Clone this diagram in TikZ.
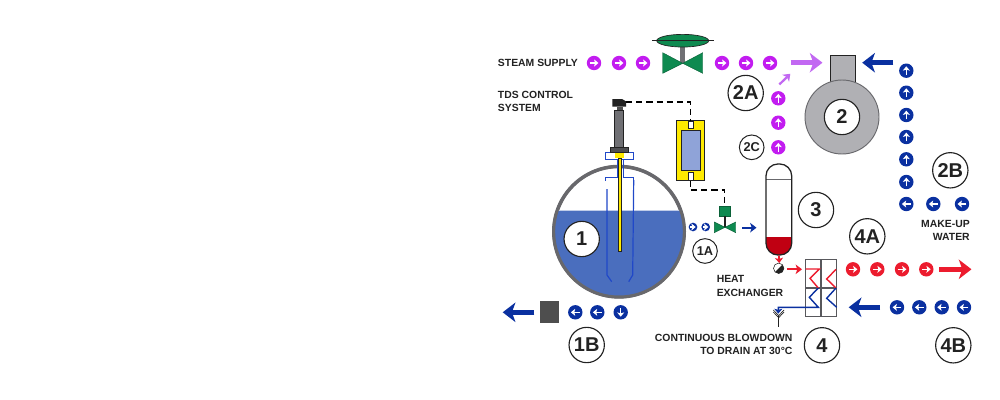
\documentclass[tikz,border=0pt]{standalone}
\usepackage{fontspec}
\setmainfont{Liberation Sans}
\usetikzlibrary{arrows.meta,shapes.geometric}
\definecolor{steamdot}{HTML}{C21CF0}
\definecolor{steamflow}{HTML}{C268F2}
\definecolor{waterblue}{HTML}{0A30A0}
\definecolor{hotred}{HTML}{EC1C2E}
\definecolor{vesselred}{HTML}{C00012}
\definecolor{drumwater}{HTML}{4A6EBE}
\definecolor{tubeblue}{HTML}{2048C8}
\definecolor{valvegreen}{HTML}{0E8A50}
\definecolor{metalgrey}{HTML}{B0B0B4}
\definecolor{probegrey}{HTML}{707074}
\definecolor{drumgrey}{HTML}{68686C}
\definecolor{tdsyellow}{HTML}{FFEA00}
\definecolor{cellblue}{HTML}{8FA3D8}
\definecolor{inkdark}{HTML}{222222}
\tikzset{
  x=0.75pt,y=-0.75pt,
  tagbig/.style={circle,draw=inkdark,fill=white,line width=0.85pt,minimum size=26.5pt,inner sep=0pt,
    font=\fontsize{15}{15}\selectfont\bfseries,text=inkdark},
  tagsmall/.style={circle,draw=inkdark,fill=white,line width=0.75pt,minimum size=18.5pt,inner sep=0pt,
    font=\fontsize{9.6}{10}\selectfont\bfseries,text=inkdark},
  caption/.style={inner sep=0pt,font=\fontsize{7.8}{10}\selectfont\bfseries,text=inkdark},
  flowdisc/.style={circle,minimum size=10.8pt,inner sep=0pt},
  bigflow/.style={line width=3.8pt,-{Stealth[length=9.5pt,width=14.5pt,inset=2.6pt]}},
  smallflow/.style={line width=1.7pt,-{Stealth[length=4.8pt,width=7.2pt,inset=1.3pt]}},
  signal/.style={dashed,dash pattern=on 4.6pt off 3pt,line width=1pt,draw=black},
  valvebody/.style={fill=valvegreen,draw=valvegreen!70!black,line width=0.3pt},
  hxline/.style={draw=drumgrey!85!black,line width=0.9pt},
  tubeline/.style={draw=tubeblue,line width=0.9pt}
}
% Round flow marker with a white direction arrow: name, position, colour, angle, scale
\newcommand{\flowmark}[5][1]{%
  \node[flowdisc,fill=#4,scale=#1] (#2) at (#3) {};
  \begin{scope}[shift={(#2.center)},rotate=#5,scale=#1]
    \draw[white,line width=1.05pt,-{Stealth[length=3.2pt,width=5.2pt,inset=0.7pt]}] (-4.3,0) -- (4.4,0);
  \end{scope}}
\begin{document}
\begin{tikzpicture}
\useasboundingbox (0,0) rectangle (1000,400);
\fill[white] (0,0) rectangle (1000,400);

% Steam line with the control valve
\foreach \n/\xx in {s1/594,s2/619,s3/643,s4/722,s5/746,s6/770}
  {\flowmark{\n}{\xx,63}{steamdot}{0}}
\fill[probegrey] (680,44) rectangle (685.4,63);
\node[ellipse,fill=valvegreen,draw=inkdark,line width=0.5pt,minimum width=39pt,minimum height=9.5pt,inner sep=0pt] (actuator) at (682.7,40.7) {};
\draw[draw=inkdark,line width=0.5pt] (652,40.7) -- (714,40.7);
\draw[valvebody] (662.7,52.7) -- (682.7,63.3) -- (662.7,73.3) -- cycle;
\draw[valvebody] (702.7,52.7) -- (682.7,63.3) -- (702.7,73.3) -- cycle;

% Boiler
\draw[draw=inkdark,fill=metalgrey,line width=0.55pt] (830.3,55) rectangle (855,84);
\node[circle,draw=drumgrey,fill=metalgrey,line width=0.7pt,minimum size=55.5pt,inner sep=0pt] (boiler) at (842,117) {};
\node[tagbig] (t2) at (842,117) {2};
\coordinate (steamin) at (790.7,62.7);
\coordinate (steamend) at (822.5,62.7);
\draw[bigflow,draw=steamflow] (steamin) -- (steamend);
\coordinate (flashstart) at (779.3,84.5);
\coordinate (flashend) at (790.3,73.8);
\draw[smallflow,draw=steamflow] (flashstart) -- (flashend);
\foreach \n/\yy in {f1/98.3,f2/122.7,f3/147.3}
  {\flowmark{\n}{778.3,\yy}{steamdot}{90}}

% Make-up water into the boiler
\coordinate (feedstart) at (893.3,62.7);
\coordinate (feedend) at (862.2,62.7);
\draw[bigflow,draw=waterblue] (feedstart) -- (feedend);
\foreach \n/\yy in {m1/70.7,m2/92.7,m3/115,m4/137,m5/159.3,m6/182}
  {\flowmark{\n}{906.3,\yy}{waterblue}{90}}
\foreach \n/\xx in {m7/906.3,m8/933.3,m9/962}
  {\flowmark{\n}{\xx,204}{waterblue}{180}}

% Boiler drum with its water
\node[circle,draw=drumgrey,fill=white,line width=2.4pt,minimum size=97.6pt,inner sep=0pt] (drum) at (619,231.7) {};
\begin{scope}
  \clip (619,231.7) circle (65.4);
  \fill[drumwater] (540,210.7) rectangle (700,310);
  \draw[draw=drumwater!35!white,line width=0.5pt] (540,210.7) -- (700,210.7);
\end{scope}
\draw[draw=drumgrey,line width=2.4pt] (619,231.7) circle (65.4);
% Protection tube
\draw[tubeline] (605.7,152.3) rectangle (633.7,159.3);
\draw[tubeline] (617.7,159.3) -- (617.7,177.3) -- (605.7,177.3) -- (605.7,180.5);
\draw[tubeline] (623.5,159.3) -- (623.5,177.3) -- (633.7,177.3) -- (633.7,180);
\draw[tubeline] (607,189) -- (607,275) -- (611.7,281.7);
\draw[tubeline] (633.7,180) -- (632.7,275) -- (628.7,281.7);
% Level probe
\fill[inkdark] (612.3,99) -- (622,99) -- (626.2,101.5) -- (626.2,106.7) -- (612.3,106.7) -- cycle;
\fill[inkdark!80] (616.5,106.7) rectangle (622.5,110.5);
\draw[draw=inkdark,fill=probegrey,line width=0.5pt] (614.2,110.5) rectangle (623.3,147.3);
\draw[draw=inkdark,fill=probegrey!70!black,line width=0.5pt] (610.3,147.3) rectangle (628,152.3);
\fill[tdsyellow] (614.7,153) rectangle (624,158);
\draw[draw=inkdark,fill=tdsyellow,line width=0.4pt] (617.8,158) rectangle (621,251);
\node[tagbig] (t1) at (581.7,239) {1};

% TDS controller
\node[rectangle,draw=inkdark,fill=tdsyellow,line width=0.6pt,minimum width=21.5pt,minimum height=45pt,inner sep=0pt] (tds) at (690.3,150.7) {};
\draw[draw=inkdark,fill=cellblue,line width=0.7pt] (681.3,130.7) rectangle (700,170.7);
\draw[draw=inkdark,fill=white,line width=0.3pt] (688,120.9) rectangle (692.7,128.3);
\draw[draw=inkdark,fill=white,line width=0.3pt] (688,172.3) rectangle (692.7,180.5);
\coordinate (probetop) at (626.2,102);
\coordinate (tdstop) at (690.3,120.7);
\coordinate (tdsbottom) at (690.3,180.7);
\draw[signal] (probetop) -| (tdstop);

% Blowdown valve
\node[rectangle,fill=valvegreen,draw=valvegreen!70!black,line width=0.3pt,minimum width=8.4pt,minimum height=7.5pt,inner sep=0pt] (blowact) at (724.7,210.7) {};
\coordinate (blowcentre) at (724.7,227.3);
\draw[signal] (tdsbottom) -- (690.3,190) -| (blowact.north);
\draw[draw=inkdark,line width=1.2pt] (blowact.south) -- (blowcentre);
\draw[valvebody] (714.3,222) -- (725,227.3) -- (714.3,232.7) -- cycle;
\draw[valvebody] (735.7,222) -- (725,227.3) -- (735.7,232.7) -- cycle;
\flowmark[0.6]{b1}{693,227}{waterblue}{0}
\flowmark[0.6]{b2}{705.7,227}{waterblue}{0}
\coordinate (flashin) at (742,227.7);
\coordinate (flashin2) at (756.5,227.7);
\draw[smallflow,draw=waterblue] (flashin) -- (flashin2);

% Flash vessel
\begin{scope}
  \clip[rounded corners=9pt] (766,164) rectangle (791.7,255);
  \fill[white] (766,164) rectangle (791.7,255);
  \fill[vesselred] (766,237.3) rectangle (791.7,255);
  \draw[draw=drumgrey,line width=0.5pt] (766,179) -- (791.7,179);
\end{scope}
\node[rectangle,rounded corners=9pt,draw=inkdark,line width=0.95pt,minimum width=19.3pt,minimum height=68.3pt,inner sep=0pt] (vessel) at (778.85,209.5) {};

% Steam trap under the vessel, dark on its lower right half
\node[circle,draw=inkdark,fill=white,line width=0.4pt,minimum size=7.8pt,inner sep=0pt] (trap) at (778.7,268.3) {};
\begin{scope}
  \clip (768.7,278.3) -- (788.7,258.3) -- (798.7,278.3) -- cycle;
  \fill[inkdark] (778.7,268.3) circle (5.2);
\end{scope}
\coordinate (drainout) at (779.3,263);
\draw[hotred,line width=1.3pt,-{Stealth[length=3.8pt,width=6pt,inset=0.8pt]}] (vessel.south) -- (drainout);
\coordinate (hxin) at (787.3,269.3);
\coordinate (hxinend) at (802,269.3);
\draw[smallflow,draw=hotred] (hxin) -- (hxinend);

% Heat exchanger
\node[rectangle,hxline,minimum width=23.2pt,minimum height=43pt,inner sep=0pt] (hx) at (821.2,288) {};
\draw[hxline] (821,259.3) -- (821,316.7);
\draw[hxline] (805.7,288) -- (836.7,288);
\draw[draw=hotred,line width=1.05pt] (805.7,269) -- (819.3,269) -- (810,278.3) -- (818.3,288);
\draw[draw=hotred,line width=1.05pt] (836,269.3) -- (826.7,279) -- (836,288);
\draw[draw=waterblue,line width=1.05pt] (836,288) -- (826.7,298.3) -- (836.7,307.3);
\coordinate (draintop) at (778.3,307.3);
\coordinate (drainhead) at (778.3,313.6);
\draw[draw=waterblue,line width=1.05pt,-{Stealth[length=3.6pt,width=6pt,inset=0.8pt]}]
  (818.3,288) -- (809.3,297.3) -- (818.3,307.3) -- (draintop) -- (drainhead);
% Drain funnel
\draw[draw=inkdark,line width=0.5pt] (773.3,310) -- (778.7,315.7) -- (784,310);
\draw[draw=inkdark,line width=0.5pt] (773.3,312) -- (778.7,317.7) -- (784,312);
\draw[draw=inkdark,line width=0.5pt] (778.7,316) -- (778.7,326.7);

% Heat recovery flows
\foreach \n/\xx in {r1/853,r2/877.3,r3/902,r4/926.3}
  {\flowmark{\n}{\xx,269.3}{hotred}{0}}
\coordinate (hotstart) at (939.3,269.3);
\coordinate (hotend) at (971.5,269.3);
\draw[bigflow,draw=hotred] (hotstart) -- (hotend);
\foreach \n/\xx in {c1/897,c2/919.3,c3/941.7,c4/964}
  {\flowmark{\n}{\xx,307.3}{waterblue}{180}}
\coordinate (coldstart) at (880,307.3);
\coordinate (coldend) at (848.7,307.3);
\draw[bigflow,draw=waterblue] (coldstart) -- (coldend);

% Blowdown from the drum bottom
\foreach \n/\xx/\a in {d1/575.3/180,d2/597.3/180,d3/620.7/270}
  {\flowmark{\n}{\xx,312.3}{waterblue}{\a}}
\node[rectangle,fill=inkdark!80,minimum width=14.5pt,minimum height=16.7pt,inner sep=0pt] (sink) at (549.3,311.8) {};
\coordinate (sinkend) at (502.7,312.3);
\coordinate (sinkstart) at (534.3,312.3);
\draw[bigflow,draw=waterblue] (sinkstart) -- (sinkend);

% Numbered tags
\node[tagbig] (t2a) at (745.7,93) {2A};
\node[tagsmall] (t2c) at (751.7,147.3) {2C};
\node[tagbig] (t2b) at (950.3,170.3) {2B};
\node[tagbig] (t3) at (816,210) {3};
\node[tagbig] (t4a) at (867.3,236.3) {4A};
\node[tagsmall] (t1a) at (705,251) {1A};
\node[tagbig] (t4) at (822,345.3) {4};
\node[tagbig] (t4b) at (953.3,345.3) {4B};
\node[tagbig] (t1b) at (586.7,345) {1B};

% Captions
\node[caption,anchor=west] (steamlabel) at (497.7,63.3) {STEAM SUPPLY};
\node[caption,anchor=west] (tdslabel1) at (497.7,94.7) {TDS CONTROL};
\node[caption,anchor=west] (tdslabel2) at (497.7,108) {SYSTEM};
\node[caption,anchor=east] (makeup1) at (970,223.7) {MAKE-UP};
\node[caption,anchor=east] (makeup2) at (970,237) {WATER};
\node[caption,anchor=west] (heat1) at (716.5,279) {HEAT};
\node[caption,anchor=west] (heat2) at (716.5,292.5) {EXCHANGER};
\node[caption,anchor=east] (cont1) at (792.7,338.3) {CONTINUOUS BLOWDOWN};
\node[caption,anchor=east] (cont2) at (792.7,351) {TO DRAIN AT 30°C};
\end{tikzpicture}
\end{document}
